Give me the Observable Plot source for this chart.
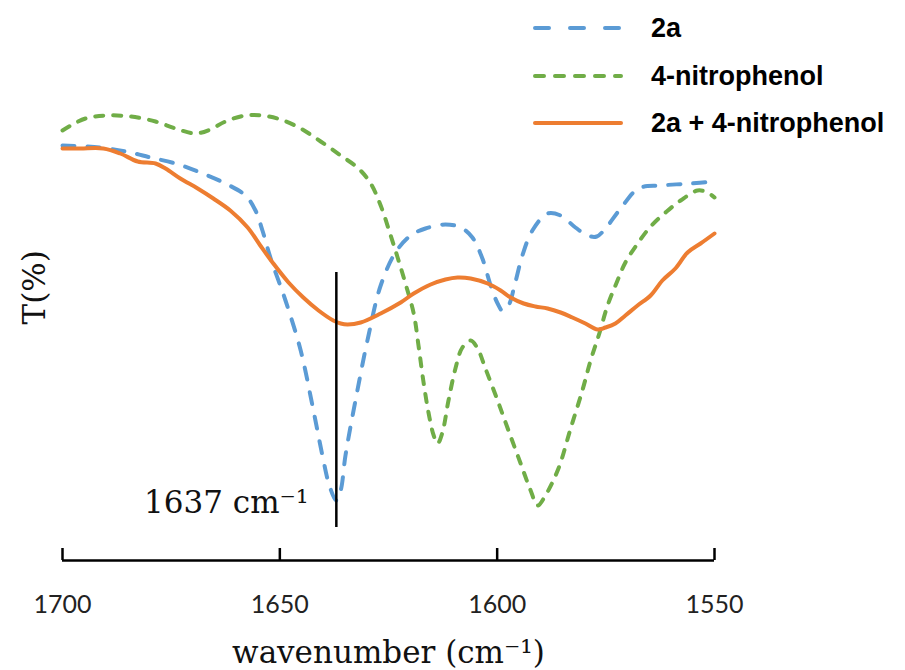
<!DOCTYPE html>
<html>
<head>
<meta charset="utf-8">
<script src="https://cdn.jsdelivr.net/npm/d3@7"></script>
<script src="https://cdn.jsdelivr.net/npm/@observablehq/plot@0.6"></script>
<style>
  html, body { margin: 0; padding: 0; background: #fff; }
  #wrap { position: relative; width: 905px; height: 670px; }
  .leg-row { position: absolute; display: flex; align-items: center; height: 30px; }
  .leg-row span { font-family: "Liberation Sans", Arial, sans-serif; font-weight: bold; font-size: 27px; color: #000; margin-left: 28px; }
</style>
</head>
<body>
<div id="wrap"></div>
<script>
// ---- data (wavenumber cm-1, transmittance arbitrary units) ----
const seriesNames = ["2a", "4-nitrophenol", "2a + 4-nitrophenol"];
const seriesColors = ["#5B9BD5", "#70AD47", "#ED7D31"];

const w2a = [1700, 1691.3, 1684.4, 1679.8, 1674.0, 1668.3, 1662.5, 1657.9, 1655.6, 1654.0, 1652.1, 1648.7, 1645.2, 1642.5, 1640.2, 1638.6, 1637.0, 1636.0, 1634.9, 1632.6, 1629.6, 1626.8, 1623.4, 1619.9, 1616.5, 1611.9, 1608.4, 1605.7, 1603.4, 1601.5, 1599.9, 1598.8, 1597.4, 1596.0, 1594.2, 1591.9, 1588.4, 1585.4, 1582.0, 1579.2, 1577.1, 1575.1, 1571.6, 1567.5, 1562.4, 1555.5, 1550];
const t2a = [83, 82.6, 81.6, 80.6, 79.4, 77.6, 75.4, 73, 70, 66, 60.4, 52, 42, 31, 21, 15, 12, 14, 21, 32, 45, 55, 61.6, 65, 66.4, 67.2, 66.6, 64.6, 60.4, 55, 51.4, 50, 51, 55, 61, 66, 69.4, 69, 66.6, 65, 64.8, 66.4, 70.4, 74.4, 75, 75.4, 75.8];

const wNp = [1700, 1697.7, 1694.7, 1690.1, 1684.4, 1678.6, 1674.0, 1669.4, 1666.0, 1662.5, 1657.9, 1654.0, 1649.8, 1645.2, 1640.6, 1636.0, 1631.9, 1629.1, 1626.8, 1624.5, 1622.9, 1621.1, 1619.2, 1618.1, 1617.0, 1615.8, 1614.6, 1613.7, 1612.6, 1611.2, 1609.6, 1608.0, 1606.1, 1604.5, 1602.7, 1599.9, 1597.4, 1594.6, 1592.3, 1590.7, 1588.9, 1585.9, 1583.1, 1580.4, 1578.5, 1576.5, 1574.6, 1572.5, 1570.5, 1568.0, 1564.7, 1561.0, 1557.8, 1553.9, 1551.6, 1550];
const tNp = [86, 87.2, 88.4, 89, 88.8, 87.8, 86.4, 85.4, 86.2, 87.8, 89, 89, 88.2, 86.4, 83.8, 81, 78.4, 75.4, 71, 65, 60.6, 55.4, 49.4, 43, 36, 29.6, 25, 23.4, 25.6, 32, 38.4, 42.6, 44, 42.4, 38.4, 32, 26, 19.4, 14, 11, 13, 18.4, 26.4, 34, 40, 45.4, 51, 55.6, 59.6, 63, 66.8, 69.8, 72, 74, 73.6, 72.6];

const wMix = [1700, 1695.9, 1690.6, 1686.7, 1682.7, 1678.6, 1676.3, 1672.9, 1668.9, 1665.3, 1661.4, 1657.4, 1654.5, 1651.5, 1648.0, 1644.6, 1641.1, 1637.7, 1636.0, 1634.4, 1631.4, 1626.8, 1622.2, 1619.2, 1615.3, 1611.9, 1609.1, 1606.1, 1602.2, 1599.2, 1596.9, 1593.9, 1591.2, 1588.4, 1585.4, 1582.7, 1579.7, 1576.9, 1575.1, 1572.8, 1570.5, 1567.7, 1564.7, 1562.0, 1559.0, 1556.2, 1553.2, 1550];
const tMix = [82.4, 82.4, 82.4, 81.4, 79.8, 79.4, 78.4, 76.4, 74.4, 72.4, 70, 66.6, 63, 59.4, 55.6, 52.6, 50, 48, 47.4, 47.2, 47.6, 49.4, 51.6, 53.4, 55.2, 56.2, 56.6, 56.4, 55.4, 54, 52.6, 51.4, 50.8, 50.4, 49.6, 48.6, 47.4, 46.2, 46.6, 47.4, 49, 51, 53, 56, 58.4, 61.6, 63.4, 65.4];

const xTicks = [1700, 1650, 1600, 1550];
const peakW = 1637;
const peakLineT = [6.6, 57.6];
const peakLabelT = 11.4;
const peakLabel = "1637 cm\u207B\u00B9";
const xLabel = "wavenumber (cm\u207B\u00B9)";
const yLabel = "T(%)";

// ---- build tables ----
const toRows = (ws, ts) => ws.map((w, i) => ({w, t: ts[i]}));
const d2a = toRows(w2a, t2a);
const dNp = toRows(wNp, tNp);
const dMix = toRows(wMix, tMix);

const dashes = ["12,13", "8,10", null];

const serif = "DejaVu Serif, serif";

const chart = Plot.plot({
  width: 905,
  height: 670,
  marginLeft: 62,
  marginRight: 191,
  marginTop: 60,
  marginBottom: 110,
  style: {background: "#fff"},
  x: {domain: [1700, 1550], axis: null},
  y: {domain: [0, 100], axis: null},
  marks: [
    Plot.line(d2a, {x: "w", y: "t", stroke: seriesColors[0], strokeWidth: 4, strokeDasharray: dashes[0], strokeLinecap: "round", curve: "catmull-rom"}),
    Plot.line(dNp, {x: "w", y: "t", stroke: seriesColors[1], strokeWidth: 4, strokeDasharray: dashes[1], strokeLinecap: "round", curve: "catmull-rom"}),
    Plot.line(dMix, {x: "w", y: "t", stroke: seriesColors[2], strokeWidth: 4, strokeLinecap: "round", curve: "catmull-rom"}),
    // annotation
    Plot.ruleX([peakW], {y1: peakLineT[0], y2: peakLineT[1], stroke: "#000", strokeWidth: 2.5}),
    Plot.text([peakLabel], {x: peakW, y: peakLabelT, text: d => d, textAnchor: "end", dx: -28, fontSize: 31, fontFamily: serif, fill: "#111"}),
    // x axis
    Plot.ruleY([0], {stroke: "#000", strokeWidth: 2.5}),
    Plot.ruleX(xTicks, {x: d => d, y1: 0, y2: 2.4, stroke: "#000", strokeWidth: 2.5}),
    Plot.text(xTicks, {x: d => d, y: 0, dy: 44, text: d => String(d), fontSize: 25, fontFamily: "Lato, sans-serif", fill: "#222"}),
    Plot.text([xLabel], {frameAnchor: "bottom", dy: 102, text: d => d, fontSize: 31, fontFamily: serif, fill: "#111"}),
    Plot.text([yLabel], {frameAnchor: "left", rotate: -90, dx: -27, dy: 14, text: d => d, fontSize: 31, fontFamily: serif, fill: "#111"})
  ]
});

const wrap = document.getElementById("wrap");
wrap.appendChild(chart);

// legend (HTML overlay)
const legTops = [13, 61, 108];
seriesNames.forEach((name, i) => {
  const row = document.createElement("div");
  row.className = "leg-row";
  row.style.left = "533px";
  row.style.top = legTops[i] + "px";
  const ns = "http://www.w3.org/2000/svg";
  const svg = document.createElementNS(ns, "svg");
  svg.setAttribute("width", "90");
  svg.setAttribute("height", "10");
  const ln = document.createElementNS(ns, "line");
  ln.setAttribute("x1", "2"); ln.setAttribute("x2", "88");
  ln.setAttribute("y1", "5"); ln.setAttribute("y2", "5");
  ln.setAttribute("stroke", seriesColors[i]);
  ln.setAttribute("stroke-width", "4");
  ln.setAttribute("stroke-linecap", "round");
  if (i === 0) ln.setAttribute("stroke-dasharray", "14,21");
  if (i === 1) ln.setAttribute("stroke-dasharray", "9,11");
  svg.appendChild(ln);
  const span = document.createElement("span");
  span.textContent = name;
  row.appendChild(svg);
  row.appendChild(span);
  wrap.appendChild(row);
});
</script>
</body>
</html>
